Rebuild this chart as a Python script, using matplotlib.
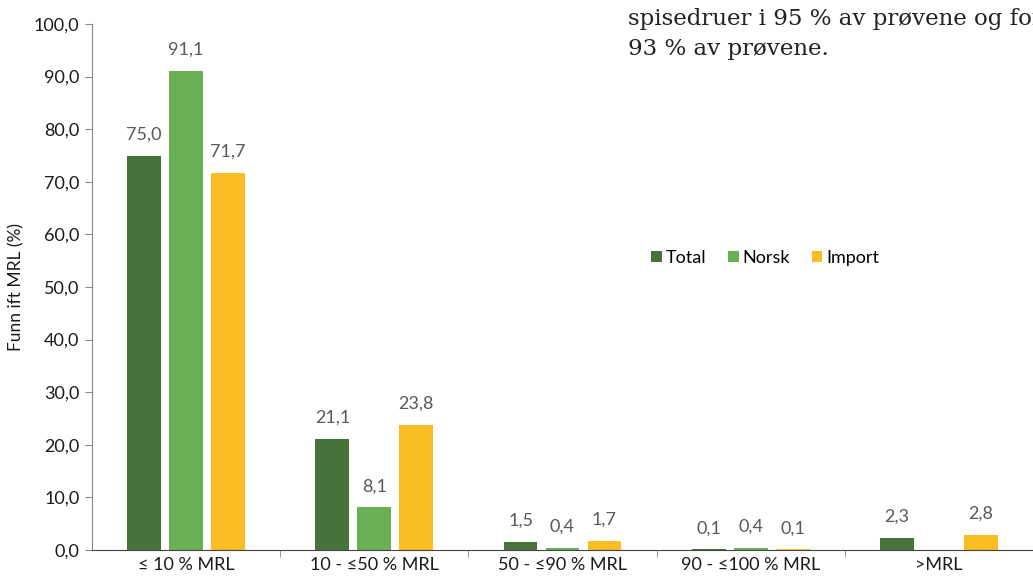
import matplotlib.pyplot as plt
import numpy as np

# Data
categories = ['≤ 10 % MRL', '10 - ≤50 % MRL', '50 - ≤90 % MRL', '90 - ≤100 % MRL', '>MRL']
series_names = ['Total', 'Norsk', 'Import']
total = [75.0, 21.1, 1.5, 0.1, 2.3]
norsk = [91.1, 8.1, 0.4, 0.4, np.nan]
importert = [71.7, 23.8, 1.7, 0.1, 2.8]
colors = ['#47733A', '#6AB155', '#FBBD24']

plt.rcParams['font.family'] = ['Lato', 'DejaVu Sans']

fig = plt.figure(figsize=(10.33, 5.76), dpi=100)
ax = fig.add_axes([92 / 1033, 1 - 550 / 576, 941 / 1033, 526 / 576])

x = np.arange(len(categories))
width = 0.18
offset = 0.223
for i, (vals, name, col) in enumerate(zip([total, norsk, importert], series_names, colors)):
    pos = x + (i - 1) * offset
    ax.bar(pos, vals, width, color=col, label=name)
    for p, v in zip(pos, vals):
        if np.isnan(v):
            continue
        ax.text(p, v + 2.5, f'{v:.1f}'.replace('.', ','), ha='center', va='bottom',
                fontsize=13, color='#595959')

ax.set_xlim(-0.5, len(categories) - 0.5)
ax.set_ylim(0, 100)
ax.set_yticks(np.arange(0, 101, 10))
ax.set_yticklabels([f'{t:.1f}'.replace('.', ',') for t in np.arange(0, 101, 10)], fontsize=13, color='#1a1a1a')
ax.set_xticks(x)
ax.set_xticklabels(categories, fontsize=13, color='#1a1a1a')
ax.tick_params(axis='x', length=0, pad=5)
ax.set_xticks(np.arange(0.5, len(categories) - 0.5, 1), minor=True)
ax.tick_params(axis='x', which='minor', length=5, color='#888888')
ax.tick_params(axis='y', length=5, color='#888888', pad=4)
for s in ['top', 'right']:
    ax.spines[s].set_visible(False)
ax.spines['left'].set_color('#888888')
ax.spines['bottom'].set_color('#444444')
ax.set_ylabel('Funn ift MRL (%)', fontsize=12.5, color='#1a1a1a', labelpad=7)

ax.legend(loc='center left', bbox_to_anchor=(0.577, 0.555), ncol=3, frameon=False,
          fontsize=13, handlelength=0.6, handleheight=0.6, handletextpad=0.2,
          columnspacing=1.2)

# paragraph text from the page that the chart crop includes
fig.text(628 / 1033, 1 - 25 / 576, 'spisedruer i 95 % av prøvene og for',
         family=['DejaVu Serif'], fontsize=16.5, color='#222222', va='baseline')
fig.text(628 / 1033, 1 - 55 / 576, '93 % av prøvene.',
         family=['DejaVu Serif'], fontsize=16.5, color='#222222', va='baseline')

fig.savefig('out.png', dpi=100)
